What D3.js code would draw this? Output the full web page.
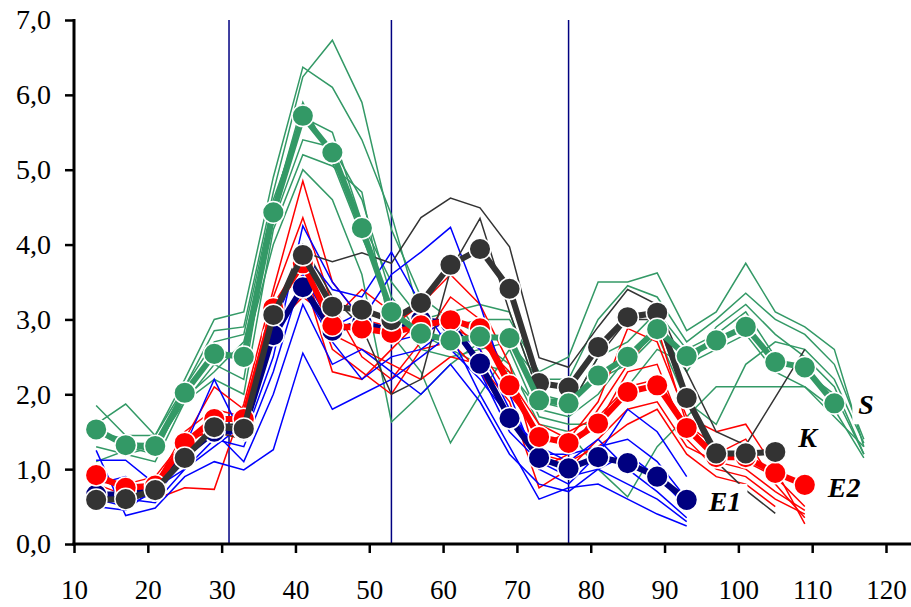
<!DOCTYPE html>
<html><head><meta charset="utf-8">
<script src="https://cdn.jsdelivr.net/npm/d3@7"></script>
<style>body{margin:0;background:#fff}svg{display:block}</style>
</head><body><svg id="c" width="911" height="607"></svg>
<script>
// x positions shared by all series
const xPos = [13,17,21,25,29,33,37,41,45,49,53,57,61,65,69,73,77,81,85,89,93,97,101,105,109,113,117];

// mean series
const meanS  = [1.53,1.32,1.31,2.02,2.54,2.50,4.43,5.72,5.23,4.22,3.10,2.81,2.72,2.77,2.75,1.92,1.88,2.25,2.50,2.87,2.51,2.72,2.90,2.43,2.36,1.88];
const meanK  = [0.59,0.60,0.72,1.15,1.56,1.54,3.06,3.86,3.17,3.13,2.99,3.22,3.73,3.94,3.41,2.15,2.09,2.63,3.03,3.09,1.95,1.21,1.21,1.23];
const meanE2 = [0.92,0.75,0.78,1.35,1.67,1.67,3.15,3.75,2.92,2.88,2.82,2.92,2.99,2.88,2.12,1.43,1.35,1.61,2.03,2.12,1.55,1.16,1.16,0.95,0.79];
const meanE1 = [0.66,0.66,0.72,1.18,1.50,1.52,2.79,3.43,2.85,2.95,2.85,2.99,2.95,2.41,1.68,1.15,1.01,1.16,1.08,0.90,0.59];

// individual series (thin lines)
const thinS = [
  [1.85,1.45,1.45,2.2,3.0,3.1,4.9,6.37,6.1,5.4,4.4,3.0,2.9,3.0,3.0,2.3,2.5,3.5,3.5,3.62,2.85,3.1,3.75,3.1,2.9,2.6,1.3],
  [1.6,1.87,1.45,2.1,2.85,2.9,4.7,6.24,6.73,5.9,4.2,3.3,3.0,2.8,2.7,2.2,2.2,3.0,3.45,3.3,2.7,3.0,3.35,3.0,2.8,2.4,1.4],
  [1.3,1.2,1.1,1.9,2.4,2.2,4.5,5.9,5.1,4.1,3.2,2.6,2.5,2.6,2.7,1.9,1.8,2.5,2.7,3.1,2.6,2.8,3.1,2.5,2.3,2.0,1.2],
  [1.1,1.25,1.3,1.9,2.2,2.0,4.2,5.2,5.05,4.7,2.8,2.3,1.35,2.0,2.6,1.7,1.6,1.6,2.1,2.6,2.4,2.6,2.8,2.3,2.1,1.7,1.3],
  [1.5,1.3,1.2,2.0,2.6,2.5,4.0,5.0,4.6,3.6,1.63,2.0,2.4,2.7,2.4,1.6,1.5,1.0,0.63,1.3,1.7,2.1,2.1,2.1,2.1,1.8,1.15],
  [null,1.2,1.3,2.1,2.7,2.8,4.6,5.7,5.5,4.3,3.5,3.0,3.1,3.2,3.1,2.0,1.9,2.2,2.4,2.8,1.9,1.6,2.4,2.7,2.6,2.2,1.35],
  [1.5,1.4,1.25,1.95,2.3,2.7,4.3,5.4,5.3,4.6,3.3,2.8,2.6,2.4,2.3,1.8,1.7,2.0,2.5,2.9,2.3,2.9,3.2,2.8,2.5,2.1,1.2]
];
const thinE2 = [
  [0.9,0.8,0.6,0.75,0.73,1.87,3.4,4.85,3.5,3.0,2.9,3.2,3.6,3.2,2.4,1.0,1.2,1.8,2.4,2.9,1.6,1.2,1.4,0.8,0.35],
  [1.0,0.7,0.8,1.5,1.8,1.7,3.3,4.36,3.2,2.5,2.2,2.7,3.3,3.0,2.2,1.6,1.4,1.9,2.88,2.7,1.7,1.5,1.6,1.0,0.27],
  [0.8,0.65,0.7,1.3,1.6,1.5,3.0,3.9,2.8,2.6,2.4,2.2,2.5,2.4,1.9,0.75,1.0,1.4,1.8,1.9,1.3,1.1,1.0,0.7,0.45],
  [null,0.8,0.9,1.4,2.1,1.8,3.2,3.6,2.3,2.2,2.6,3.0,2.9,2.7,2.3,1.3,1.5,1.7,2.1,2.2,1.6,1.3,1.1,0.9,0.5],
  [0.85,0.75,0.8,1.3,1.7,1.6,2.9,3.3,3.0,3.4,3.1,2.8,3.0,2.6,2.0,1.5,1.3,1.6,2.3,2.4,1.4,1.0,0.9,0.6,0.4],
  [0.9,0.7,0.75,1.4,1.5,1.4,3.1,3.7,2.6,2.3,2.0,2.6,2.7,2.3,1.7,1.2,1.1,1.3,1.6,1.8,1.2,0.9,0.8,0.5]
];
const thinE1 = [
  [1.25,0.38,0.48,0.9,1.1,0.99,1.26,2.55,1.8,2.0,2.2,2.5,2.8,2.0,1.3,0.6,0.75,0.8,0.6,0.4,0.24],
  [1.12,1.12,0.8,1.3,2.2,1.4,2.5,4.25,3.5,3.0,3.6,3.9,4.23,3.2,2.0,1.0,0.8,1.2,1.8,1.5,0.9],
  [0.7,0.6,0.55,1.0,1.4,1.3,2.3,3.6,2.9,3.1,2.7,2.8,3.0,2.3,1.5,1.1,0.9,1.0,1.2,0.9,0.5],
  [0.6,0.5,0.7,1.1,1.6,1.7,2.9,3.9,3.4,3.3,3.9,3.2,2.6,2.2,1.7,1.3,1.1,1.4,1.0,0.7,0.35],
  [0.8,0.9,0.6,1.2,1.5,1.1,2.0,3.2,2.4,2.6,2.3,2.0,2.4,1.9,1.2,0.8,0.7,1.0,0.8,0.6,0.3],
  [0.5,0.45,0.75,1.0,1.3,1.6,2.7,3.4,2.7,2.2,2.5,2.6,2.9,2.6,1.8,1.2,1.2,1.3,1.4,1.1,0.6]
];
const thinK = [
  [0.6,0.55,0.7,1.2,1.5,1.4,3.0,3.9,3.77,3.89,3.75,4.36,4.62,4.49,3.97,2.49,2.36,2.9,3.4,3.2,2.3,1.5,1.32,1.96,2.6],
  [0.55,0.6,0.75,1.1,1.6,1.6,3.1,4.0,3.3,2.9,2.0,2.2,3.66,4.35,3.1,2.0,1.8,2.5,3.0,3.0,1.9,1.1,0.72,0.41]
];

const xTicks = [10,20,30,40,50,60,70,80,90,100,110,120];
const yTicks = [0,1,2,3,4,5,6,7];
const dividers = [31,53,77];
const seriesNames = ["E1","E2","K","S"];

const colors = {S:"#339966", K:"#333333", E2:"#ff0000", E1:"#000080"};
const thinColors = {S:"#339966", K:"#333333", E2:"#ff0000", E1:"#0000ff"};
const means = {S:meanS, K:meanK, E2:meanE2, E1:meanE1};
const thins = {S:thinS, K:thinK, E2:thinE2, E1:thinE1};
const labelOffset = {S:[24,11], K:[23,-5], E2:[23,12], E1:[22,11]};

const svg = d3.select("#c");
const x = d3.scaleLinear().domain([10,120]).range([74,886]);
const y = d3.scaleLinear().domain([0,7]).range([544,20]);
const fontFam = "'Liberation Serif','Times New Roman',serif";

// dividers
svg.append("g").selectAll("line").data(dividers).join("line")
  .attr("x1", d=>x(d)).attr("x2", d=>x(d))
  .attr("y1", y(7)).attr("y2", y(0))
  .attr("stroke", "#000080").attr("stroke-width", 1.5);

const line = d3.line()
  .defined(d => d[1] != null)
  .x(d => x(d[0])).y(d => y(d[1]));

// thin lines
["S","E2","E1","K"].forEach(k => {
  svg.append("g").selectAll("path").data(thins[k]).join("path")
    .attr("d", arr => line(arr.map((v,i)=>[xPos[i], v])))
    .attr("fill","none").attr("stroke", thinColors[k]).attr("stroke-width",1.5)
    .attr("stroke-linejoin","miter");
});

// labels with white boxes
const lblG = svg.append("g");
seriesNames.forEach(k => {
  const m = means[k], n = m.length - 1;
  const g = lblG.append("g");
  const t = g.append("text")
    .attr("x", x(xPos[n]) + labelOffset[k][0])
    .attr("y", y(m[n]) + labelOffset[k][1])
    .attr("font-family", fontFam).attr("font-size", 28)
    .attr("font-weight","bold").attr("font-style","italic")
    .attr("fill","#000").text(k);
  const b = t.node().getBBox();
  g.insert("rect","text")
    .attr("x", b.x-6).attr("y", b.y-2).attr("width", b.width+12).attr("height", b.height+6)
    .attr("fill","#fff");
});

// mean series
seriesNames.forEach(k => {
  const pts = means[k].map((v,i)=>[xPos[i], v]);
  const g = svg.append("g");
  g.append("path").attr("d", line(pts)).attr("fill","none")
    .attr("stroke", colors[k]).attr("stroke-width", 6);
  g.selectAll("circle").data(pts).join("circle")
    .attr("cx", d=>x(d[0])).attr("cy", d=>y(d[1])).attr("r", 10.8)
    .attr("fill", colors[k]).attr("stroke","#fff").attr("stroke-width",1.5);
});

// axes
const fmt = v => d3.format(".1f")(v).replace(".", ",");
const ya = svg.append("g").attr("transform","translate(74,0)")
  .call(d3.axisLeft(y).tickValues(yTicks).tickFormat(fmt).tickSize(9).tickPadding(14).tickSizeOuter(0));
const xa = svg.append("g").attr("transform","translate(0,544)")
  .call(d3.axisBottom(x).tickValues(xTicks).tickFormat(d3.format("d")).tickSize(9).tickPadding(27).tickSizeOuter(0));
[ya, xa].forEach(a => {
  a.select(".domain").remove();
  a.selectAll(".tick line").attr("stroke","#000").attr("stroke-width",2.5);
  a.selectAll(".tick text").attr("font-family", fontFam).attr("fill","#000");
});
ya.selectAll(".tick text").attr("font-size",28);
xa.selectAll(".tick text").attr("font-size",27);
svg.append("line").attr("x1",74).attr("x2",74).attr("y1",y(7)-1).attr("y2",y(0)+1.5)
  .attr("stroke","#000").attr("stroke-width",3);
svg.append("line").attr("x1",72.5).attr("x2",911).attr("y1",y(0)).attr("y2",y(0))
  .attr("stroke","#000").attr("stroke-width",3);
</script>
</body></html>
